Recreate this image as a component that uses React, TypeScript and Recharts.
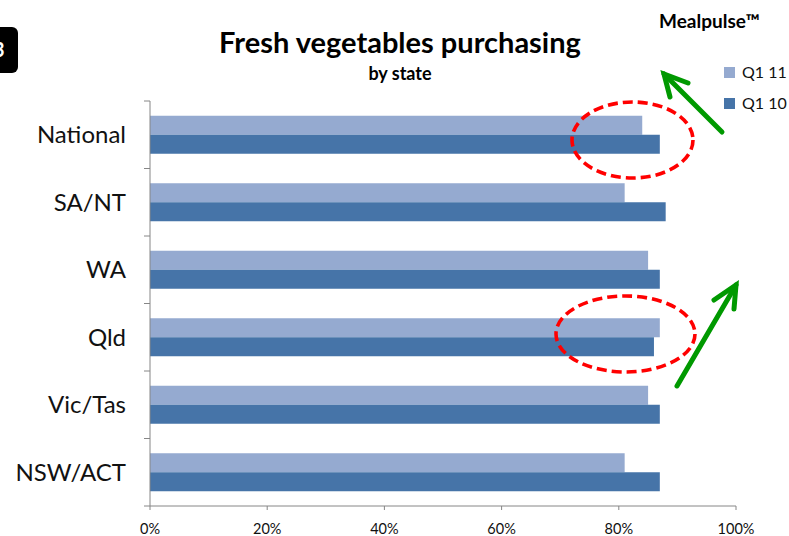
import React from "react";
import { BarChart, Bar, XAxis, YAxis } from "recharts";

const states = ["National", "SA/NT", "WA", "Qld", "Vic/Tas", "NSW/ACT"];
const q111 = [84, 81, 85, 87, 85, 81];
const q110 = [87, 88, 87, 86, 87, 87];
const xTicks = [0, 20, 40, 60, 80, 100];

const seriesNames = ["Q1 11", "Q1 10"];
const seriesColors = ["#95AAD0", "#4674A8"];

const data = states.map((name, i) => ({ name, q111: q111[i], q110: q110[i] }));

const FONT = "Lato, 'Open Sans', sans-serif";
const AXIS = "#868686";
const PLOT_TOP = 101;
const PLOT_BOTTOM = 506;
const BAND = (PLOT_BOTTOM - PLOT_TOP) / states.length;

const StateTick: React.FC<any> = ({ x, y, payload, index }) => {
  const top = y - BAND / 2;
  return (
    <g>
      <line x1={144} x2={150} y1={top} y2={top} stroke={AXIS} />
      {index === states.length - 1 && (
        <line x1={144} x2={150} y1={top + BAND} y2={top + BAND} stroke={AXIS} />
      )}
      <text
        x={126}
        y={y}
        dy="0.35em"
        textAnchor="end"
        fontSize={24}
        fontFamily={FONT}
        fill="#111"
      >
        {payload.value}
      </text>
    </g>
  );
};

const PctTick: React.FC<any> = ({ x, y, payload }) => (
  <text x={x} y={y} dy="0.71em" textAnchor="middle" fontSize={14.5} fontFamily={FONT} fill="#111">
    {`${payload.value}%`}
  </text>
);

const Annotations = () => (
  <svg
    width={789}
    height={536}
    style={{ position: "absolute", left: 0, top: 0, pointerEvents: "none" }}
  >
    <ellipse cx={632.5} cy={140} rx={60.5} ry={38} fill="none" stroke="#FF0000" strokeWidth={3.6} strokeDasharray="10 5" />
    <ellipse cx={625.5} cy={334} rx={69.5} ry={38} fill="none" stroke="#FF0000" strokeWidth={3.6} strokeDasharray="10 5" />
    <g stroke="#009900" strokeWidth={5} strokeLinecap="round" fill="none">
      <line x1={722} y1={132} x2={664} y2={74} />
      <polyline points="688,83 664,74 670,97" />
      <line x1={677} y1={386} x2={736} y2={285} />
      <polyline points="714,300 736,285 734,309" />
    </g>
  </svg>
);

export default function App() {
  return (
    <div style={{ position: "absolute", left: 0, top: 0, width: 789, height: 536, background: "#fff", overflow: "hidden", fontFamily: FONT }}>
      <div style={{ position: "absolute", left: -10, top: 27, width: 28, height: 46, background: "#000", borderRadius: 6 }}>
        <span style={{ position: "absolute", left: 3, top: 10, color: "#fff", fontWeight: 700, fontSize: 20 }}>3</span>
      </div>
      <div style={{ position: "absolute", left: 100, width: 600, top: 24, textAlign: "center", fontSize: 29, fontWeight: 700, lineHeight: "36px", color: "#000" }}>
        Fresh vegetables purchasing
      </div>
      <div style={{ position: "absolute", left: 150, width: 500, top: 62, textAlign: "center", fontSize: 18, fontWeight: 700, lineHeight: "22px", color: "#000" }}>
        by state
      </div>
      <div style={{ position: "absolute", left: 659, top: 10, fontSize: 19, fontWeight: 700, lineHeight: "22px", color: "#000", whiteSpace: "nowrap" }}>
        Mealpulse™
      </div>
      {seriesNames.map((s, i) => (
        <div key={s} style={{ position: "absolute", left: 724, top: 61 + i * 31, width: 70, display: "flex", alignItems: "center", fontSize: 16, lineHeight: "22px", color: "#111", whiteSpace: "nowrap" }}>
          <span style={{ display: "inline-block", flex: "none", width: 11, height: 11, background: seriesColors[i], marginRight: 7 }} />
          {s}
        </div>
      ))}
      <BarChart
        width={789}
        height={536}
        data={data}
        layout="vertical"
        margin={{ top: PLOT_TOP, right: 53, left: 0, bottom: 0 }}
        barCategoryGap="22%"
        barGap={0}
      >
        <XAxis
          type="number"
          domain={[0, 100]}
          ticks={xTicks}
          height={30}
          axisLine={{ stroke: AXIS }}
          tickLine={{ stroke: AXIS }}
          tickSize={4}
          tickMargin={14}
          tick={<PctTick />}
          interval={0}
        />
        <YAxis
          type="category"
          dataKey="name"
          width={150}
          axisLine={{ stroke: AXIS }}
          tickLine={false}
          tick={<StateTick />}
          interval={0}
        />
        <Bar dataKey="q111" name={seriesNames[0]} fill={seriesColors[0]} isAnimationActive={false} />
        <Bar dataKey="q110" name={seriesNames[1]} fill={seriesColors[1]} isAnimationActive={false} />
      </BarChart>
      <Annotations />
    </div>
  );
}
